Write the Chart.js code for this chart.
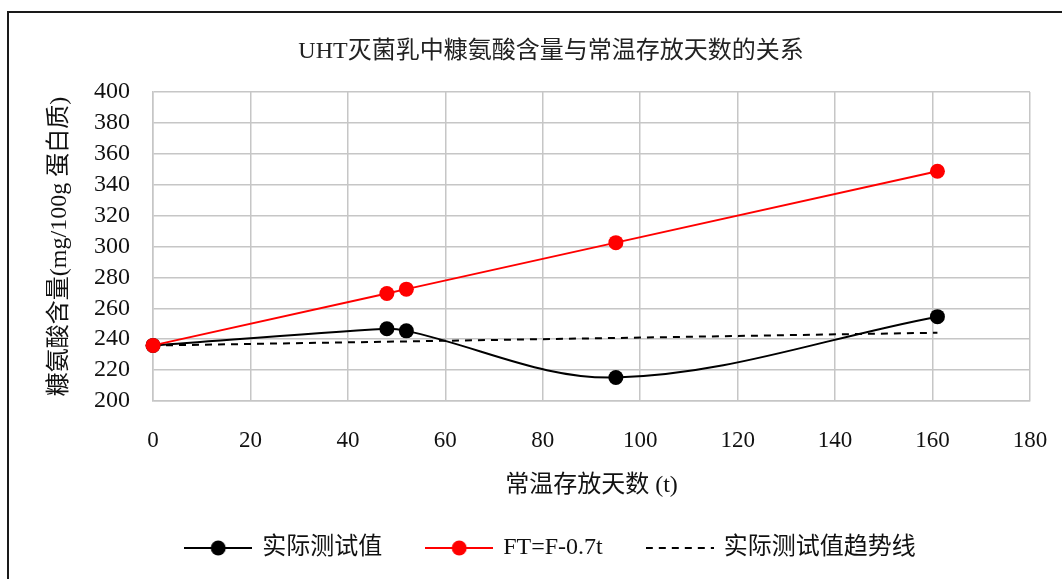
<!DOCTYPE html>
<html>
<head>
<meta charset="utf-8">
<script src="https://cdn.jsdelivr.net/npm/chart.js@4/dist/chart.umd.min.js"></script>
<style>
  html, body { margin: 0; padding: 0; background: #fff; overflow: hidden; }
  #c { display: block; }
</style>
</head>
<body>
<canvas id="c" width="1062" height="579"></canvas>
<script>
// Storage days (t) at which the samples were tested
const days = [0, 48, 52, 95, 161];
// Measured furosine content, mg/100g protein
const measured = [236, 246.8, 245.4, 215.2, 254.6];
// FT = F - 0.7t reference line
const ftValues = [236, 269.6, 272.4, 302.5, 348.7];
// Linear trend of the measured values (end points)
const trendDays = [0, 161];
const trendValues = [235.9, 244.2];

const seriesNames = ['实际测试值', 'FT=F-0.7t', '实际测试值趋势线'];
const chartTitle = 'UHT灭菌乳中糠氨酸含量与常温存放天数的关系';
const xTitle = '常温存放天数 (t)';
const yTitle = '糠氨酸含量(mg/100g 蛋白质)';
const xRange = { min: 0, max: 180, step: 20 };
const yRange = { min: 200, max: 400, step: 20 };

const FONT = "'Liberation Serif', 'Noto Sans CJK SC', serif";
const GRID = '#c6c6c6';

const toPoints = (xs, ys) => xs.map((x, i) => ({ x: x, y: ys[i] }));

// Small legend icons: a line segment with an optional marker in the middle
function legendIcon(color, dashed, dot) {
  const c = document.createElement('canvas');
  c.width = 68; c.height = 16;
  const g = c.getContext('2d');
  g.strokeStyle = color;
  g.lineWidth = 2;
  if (dashed) g.setLineDash([7, 6]);
  g.beginPath(); g.moveTo(0, 8); g.lineTo(68, 8); g.stroke();
  if (dot) {
    g.fillStyle = color;
    g.beginPath(); g.arc(34, 8, 7.5, 0, Math.PI * 2); g.fill();
  }
  return c;
}
const icons = [legendIcon('#000', false, true), legendIcon('#ff0000', false, true), legendIcon('#000', true, false)];

// Outer frame of the chart
const framePlugin = {
  id: 'frame',
  beforeDraw(chart) {
    const ctx = chart.ctx;
    ctx.save();
    ctx.fillStyle = '#fff';
    ctx.fillRect(0, 0, chart.width, chart.height);
    ctx.fillStyle = '#1a1a1a';
    ctx.fillRect(7, 11, chart.width - 7, 2);
    ctx.fillRect(7, 11, 2, chart.height - 11);
    ctx.restore();
  }
};

new Chart(document.getElementById('c'), {
  type: 'line',
  data: {
    datasets: [
      {
        label: seriesNames[0],
        data: toPoints(days, measured),
        borderColor: '#000', backgroundColor: '#000',
        borderWidth: 2, pointRadius: 7.5, pointHoverRadius: 7.5, pointBorderWidth: 0,
        tension: 0.35, order: 2, clip: false
      },
      {
        label: seriesNames[1],
        data: toPoints(days, ftValues),
        borderColor: '#ff0000', backgroundColor: '#ff0000',
        borderWidth: 2, pointRadius: 7.5, pointHoverRadius: 7.5, pointBorderWidth: 0,
        tension: 0, order: 1, clip: false
      },
      {
        label: seriesNames[2],
        data: toPoints(trendDays, trendValues),
        borderColor: '#000', backgroundColor: '#000',
        borderWidth: 2, borderDash: [7, 6], pointRadius: 0, pointHoverRadius: 0,
        tension: 0, order: 3, clip: false
      }
    ]
  },
  options: {
    responsive: false,
    animation: false,
    events: [],
    layout: { padding: { left: 40, right: 0, top: 0, bottom: 9 } },
    plugins: {
      title: {
        display: true, text: chartTitle, color: '#222',
        font: { family: FONT, size: 24, weight: 'normal' },
        padding: { top: 37.6, bottom: 25.6 }
      },
      legend: {
        position: 'bottom',
        labels: {
          usePointStyle: true,
          pointStyleWidth: 64,
          padding: 45,
          color: '#111',
          font: { family: FONT, size: 24 },
          sort: (a, b) => a.datasetIndex - b.datasetIndex,
          generateLabels(chart) {
            const items = Chart.defaults.plugins.legend.labels.generateLabels(chart);
            items.forEach(it => { it.pointStyle = icons[it.datasetIndex]; });
            return items;
          }
        }
      },
      tooltip: { enabled: false }
    },
    scales: {
      x: {
        type: 'linear', min: xRange.min, max: xRange.max,
        ticks: { stepSize: xRange.step, autoSkip: false, color: '#111', padding: 26, font: { family: FONT, size: 23 } },
        grid: { color: GRID, lineWidth: 1.5, drawTicks: false },
        border: { color: GRID, width: 1.5 },
        title: { display: true, text: xTitle, color: '#111', font: { family: FONT, size: 24 }, padding: { top: 0, bottom: -9 } },
        afterFit(scale) { scale.height = 90; scale.paddingRight = 32; }
      },
      y: {
        min: yRange.min, max: yRange.max,
        ticks: { stepSize: yRange.step, autoSkip: false, color: '#111', padding: 23, font: { family: FONT, size: 24 } },
        grid: { color: GRID, lineWidth: 1.5, drawTicks: false },
        border: { color: GRID, width: 1.5 },
        title: { display: true, text: yTitle, color: '#111', font: { family: FONT, size: 24 }, padding: { top: 5.6, bottom: 0 } },
        afterFit(scale) { scale.width = 113; }
      }
    }
  },
  plugins: [framePlugin]
});
</script>
</body>
</html>
